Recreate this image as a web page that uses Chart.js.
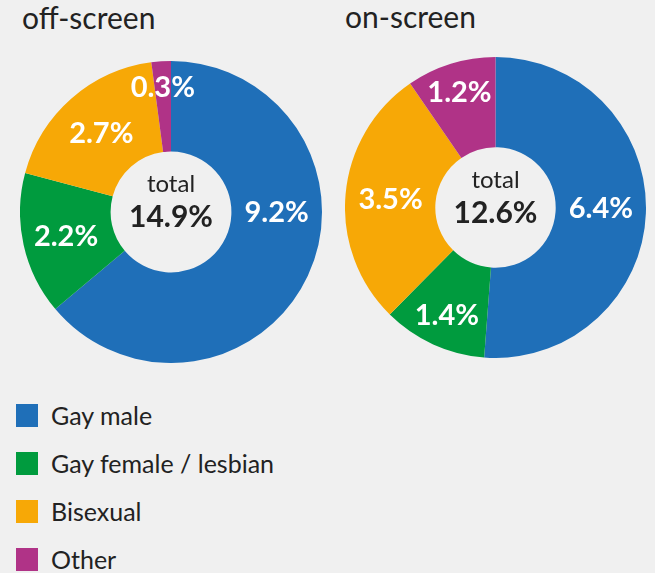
<!DOCTYPE html>
<html>
<head>
<meta charset="utf-8">
<script src="https://cdn.jsdelivr.net/npm/chart.js@4/dist/chart.umd.min.js"></script>
<style>
  html, body { margin:0; padding:0; background:#f0f0f0; width:655px; height:573px; overflow:hidden; font-family: Lato, sans-serif; color:#222; }
  .title { position:absolute; font-size:30px; line-height:30px; color:#222; white-space:nowrap; }
  canvas { position:absolute; }
  .legend { position:absolute; left:16px; top:404px; }
  .item { position:relative; height:48px; }
  .sw { position:absolute; left:0; top:0; width:22px; height:23px; }
  .lab { position:absolute; left:35px; top:-1px; font-size:25px; line-height:25px; white-space:nowrap; color:#222; }
</style>
</head>
<body>
<div class="title" id="t0" style="left:22px; top:2px;"></div>
<div class="title" id="t1" style="left:345px; top:1px;"></div>
<div style="position:absolute; left:20px; top:61px; width:302px; height:302px;"><canvas id="c0" width="302" height="302"></canvas></div>
<div style="position:absolute; left:345px; top:57px; width:301px; height:301px;"><canvas id="c1" width="301" height="301"></canvas></div>
<div class="legend" id="legend"></div>
<script>
const categories = ['Gay male', 'Gay female / lesbian', 'Bisexual', 'Other'];
const offScreen = [9.2, 2.2, 2.7, 0.3];
const onScreen = [6.4, 1.4, 3.5, 1.2];
const totals = [14.9, 12.6];
const chartTitles = ['off-screen', 'on-screen'];
const colors = ['#1f6fb8', '#009b3e', '#f7a806', '#b03387'];

document.getElementById('t0').textContent = chartTitles[0];
document.getElementById('t1').textContent = chartTitles[1];

const leg = document.getElementById('legend');
categories.forEach((c, i) => {
  const it = document.createElement('div'); it.className = 'item';
  const sw = document.createElement('div'); sw.className = 'sw'; sw.style.background = colors[i];
  const lb = document.createElement('div'); lb.className = 'lab'; lb.textContent = c;
  it.appendChild(sw); it.appendChild(lb); leg.appendChild(it);
});

const labelPlugin = {
  id: 'sliceLabels',
  afterDatasetsDraw(chart, args, opts) {
    const ctx = chart.ctx;
    const meta = chart.getDatasetMeta(0);
    const data = chart.data.datasets[0].data;
    const sum = data.reduce((a, b) => a + b, 0);
    ctx.save();
    ctx.fillStyle = '#ffffff';
    ctx.textAlign = 'center';
    ctx.textBaseline = 'alphabetic';
    const fs = 29;
    ctx.font = 'bold ' + fs + 'px Lato';
    meta.data.forEach((arc, i) => {
      const p = arc.getProps(['x', 'y', 'startAngle', 'endAngle', 'innerRadius', 'outerRadius'], true);
      const frac = data[i] / sum;
      let mid = (p.startAngle + p.endAngle) / 2;
      if (frac > 0.5) mid = Math.min(mid, 0);
      const off = Math.min(20, Math.max(0, (0.16 - frac) * 250));
      const r = (p.innerRadius + p.outerRadius) / 2 + off;
      const x = p.x + Math.cos(mid) * r;
      const y = p.y + Math.sin(mid) * r;
      ctx.fillText(data[i].toFixed(1) + '%', x, y + fs * 0.36);
    });
    const a0 = meta.data[0];
    ctx.fillStyle = '#222';
    ctx.font = '24px Lato';
    ctx.fillText('total', a0.x, a0.y - 20);
    ctx.font = 'bold 30px Lato';
    ctx.fillText(opts.total.toFixed(1) + '%', a0.x, a0.y + 15);
    ctx.restore();
  }
};

function makeChart(id, values, total) {
  return new Chart(document.getElementById(id), {
    type: 'doughnut',
    data: {
      labels: categories,
      datasets: [{ data: values, backgroundColor: colors, borderWidth: 0, hoverOffset: 0 }]
    },
    options: {
      responsive: false,
      animation: false,
      cutout: '40%',
      layout: { padding: 0 },
      plugins: { legend: { display: false }, tooltip: { enabled: false }, sliceLabels: { total: total } }
    },
    plugins: [labelPlugin]
  });
}

Promise.all([document.fonts.load('bold 29px Lato'), document.fonts.load('24px Lato')]).then(() => {
  makeChart('c0', offScreen, totals[0]);
  makeChart('c1', onScreen, totals[1]);
});
</script>
</body>
</html>
